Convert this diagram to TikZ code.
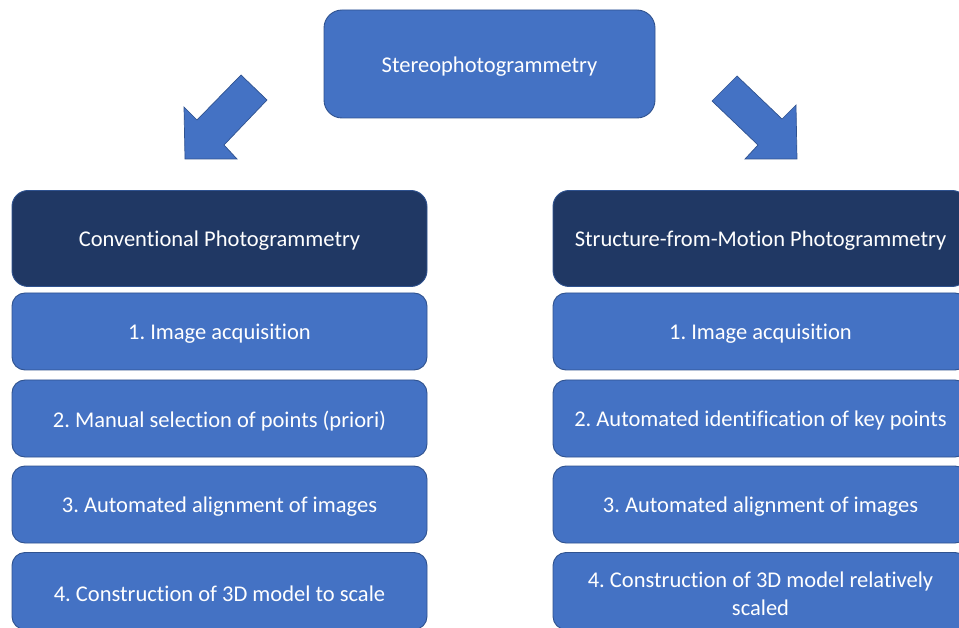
\documentclass[tikz,border=0pt]{standalone}
\usepackage{fontspec}
\setmainfont[Ligatures={NoCommon}]{Carlito}
\definecolor{boxblue}{HTML}{4472C4}
\definecolor{boxedge}{HTML}{2F528F}
\definecolor{headblue}{HTML}{203864}
\begin{document}
\frenchspacing
\begin{tikzpicture}[x=1pt,y=-1pt,
  boxtext/.style={text=white, align=center, inner sep=0pt, yshift=-2.5pt,
    font=\fontsize{22.5}{28}\selectfont},
  stepbox/.style={draw=boxedge, line width=0.9pt, fill=boxblue, rounded corners=13pt,
    minimum width=415pt, minimum height=77pt, inner sep=0pt,
    label={[boxtext]center:{#1}}},
  headbox/.style={stepbox=#1, fill=headblue, minimum height=96pt, rounded corners=16pt},
  topbox/.style={stepbox=#1, minimum width=331pt, minimum height=108pt, rounded corners=18pt},
  bigarrow/.style={draw=boxedge, line width=0.7pt, fill=boxblue, line join=miter}]
\useasboundingbox (0,0) rectangle (959,628);

% root
\node[topbox={Stereophotogrammetry}] (root) at (489.5,64) {};

% left column: conventional workflow
\node[headbox={Conventional Photogrammetry}] (lh) at (219.5,238.5) {};
\node[stepbox={1. Image acquisition}] (l1) at (219.5,331.5) {};
\node[stepbox={2. Manual selection of points (priori)}] (l2) at (219.5,418.5) {};
\node[stepbox={3. Automated alignment of images}] (l3) at (219.5,504.5) {};
\node[stepbox={4. Construction of 3D model to scale}] (l4) at (219.5,591) {};

% right column: structure-from-motion workflow
\node[headbox={Structure-from-Motion Photogrammetry}] (rh) at (760.5,238.5) {};
\node[stepbox={1. Image acquisition}] (r1) at (760.5,331.5) {};
\node[stepbox={2. Automated identification of key points}] (r2) at (760.5,418.5) {};
\node[stepbox={3. Automated alignment of images}] (r3) at (760.5,504.5) {};
\node[stepbox={4. Construction of 3D model relatively\\scaled}] (r4) at (760.5,591) {};

% block arrows from the root towards each branch
\coordinate (la) at (185,159);
\coordinate (ra) at (797,159);
\draw[bigarrow] (la) -- (237,159) -- (224,145) -- (267,100) -- (241,75)
  -- (197,120) -- (184,107) -- cycle;
\draw[bigarrow] (ra) -- (745,159) -- (758,145) -- (712,101) -- (737,76)
  -- (782,119) -- (796,105) -- cycle;
\end{tikzpicture}
\end{document}
